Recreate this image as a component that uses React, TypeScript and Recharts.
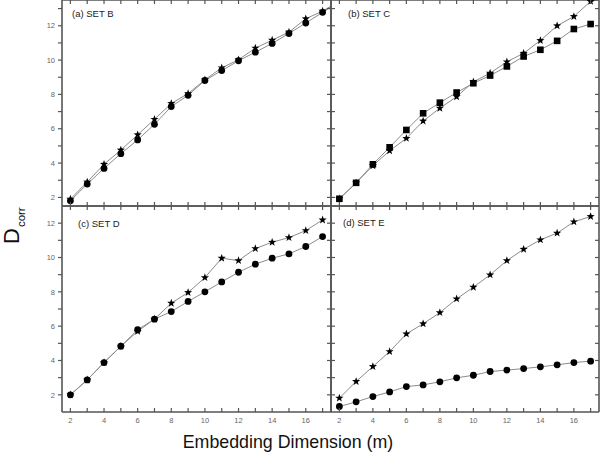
import React from 'react';
import { LineChart, Line, XAxis, YAxis } from 'recharts';

// ---------- data ----------
// m = 18 values are only visible as line segments leaving the right edge of panels (a) and (b)
const dims = [2, 3, 4, 5, 6, 7, 8, 9, 10, 11, 12, 13, 14, 15, 16, 17, 18];

const setBStar = [1.9, 2.9, 3.93, 4.76, 5.65, 6.55, 7.47, 8.05, 8.85, 9.55, 10.02, 10.7, 11.16, 11.63, 12.41, 12.85, 13.45];
const setBCircle = [1.8, 2.78, 3.69, 4.55, 5.35, 6.26, 7.29, 7.95, 8.81, 9.39, 9.96, 10.46, 10.97, 11.55, 12.16, 12.78, 13.42];

const setCStar = [1.92, 2.85, 3.85, 4.72, 5.44, 6.45, 7.2, 7.87, 8.73, 9.24, 9.9, 10.4, 11.14, 12.0, 12.54, 13.42, 13.6];
const setCSquare = [1.92, 2.85, 3.93, 4.92, 5.93, 6.9, 7.52, 8.11, 8.65, 9.1, 9.63, 10.21, 10.6, 11.12, 11.81, 12.1];

const setDStar = [2.0, 2.87, 3.88, 4.83, 5.7, 6.41, 7.34, 7.96, 8.83, 9.96, 9.82, 10.52, 10.89, 11.16, 11.57, 12.19];
const setDCircle = [2.0, 2.87, 3.88, 4.83, 5.79, 6.41, 6.85, 7.44, 8.0, 8.58, 9.14, 9.61, 9.96, 10.21, 10.64, 11.22];

const setEStar = [1.81, 2.78, 3.65, 4.52, 5.55, 6.14, 6.79, 7.59, 8.27, 8.99, 9.82, 10.48, 11.03, 11.42, 12.08, 12.39];
const setECircle = [1.32, 1.59, 1.9, 2.17, 2.48, 2.58, 2.76, 2.99, 3.14, 3.36, 3.44, 3.53, 3.63, 3.75, 3.88, 3.96];

const xTicks = [2, 3, 4, 5, 6, 7, 8, 9, 10, 11, 12, 13, 14, 15, 16, 17];
const yTicksTop = [2, 3, 4, 5, 6, 7, 8, 9, 10, 11, 12, 13];
const yTicksBottom = [2, 3, 4, 5, 6, 7, 8, 9, 10, 11, 12];
const xDomain: [number, number] = [1.5, 17.5];
const yDomainTop: [number, number] = [1.5, 13.5];
const yDomainBottom: [number, number] = [1, 13];

const panelTitles = ['(a) SET B', '(b) SET C', '(c)  SET D', '(d) SET E'];
const xTitle = 'Embedding Dimension (m)';
const yTitleMain = 'D';
const yTitleSub = 'corr';

// ---------- styles ----------
const FONT = '"Liberation Sans", Arial, Helvetica, sans-serif';
const AXIS = '#555';
const LINE = '#8c8c8c';
const LABEL = '#666';

type Shape = 'star' | 'circle' | 'square';

const Marker = ({ cx, cy, shape }: { cx: number; cy: number; shape: Shape }) => {
  if (cx == null || cy == null || Number.isNaN(cx) || Number.isNaN(cy)) return null;
  if (cx > 600) return null;
  if (shape === 'circle') return <circle cx={cx} cy={cy} r={3.4} fill="#000" />;
  if (shape === 'square') return <rect x={cx - 3.3} y={cy - 3.3} width={6.6} height={6.6} fill="#000" />;
  const R = 4.3;
  const r = 1.75;
  const pts: string[] = [];
  for (let i = 0; i < 10; i++) {
    const rad = i % 2 === 0 ? R : r;
    const a = -Math.PI / 2 + (i * Math.PI) / 5;
    pts.push(`${cx + rad * Math.cos(a)},${cy + rad * Math.sin(a)}`);
  }
  return <polygon points={pts.join(' ')} fill="#000" />;
};

type Orient = 'top' | 'bottom' | 'left' | 'right';

const makeTick = (orient: Orient, inLen: number, outLen: number, labels: boolean) => (props: any) => {
  const { x, y, payload } = props;
  const v = payload.value;
  let ln: any;
  if (orient === 'bottom') ln = { x1: x, x2: x, y1: y - inLen, y2: y + outLen };
  else if (orient === 'top') ln = { x1: x, x2: x, y1: y + inLen, y2: y - outLen };
  else if (orient === 'left') ln = { x1: x - outLen, x2: x + inLen, y1: y, y2: y };
  else ln = { x1: x + outLen, x2: x - inLen, y1: y, y2: y };
  const showText = labels && v % 2 === 0;
  return (
    <g>
      <line {...ln} stroke={AXIS} strokeWidth={1.2} />
      {showText && orient === 'left' && (
        <text x={x - 7} y={y + 2.7} textAnchor="end" fontSize={7.5} fill={LABEL} fontFamily={FONT}>
          {v}
        </text>
      )}
      {showText && orient === 'bottom' && (
        <text x={x} y={y + 10.5} textAnchor="middle" fontSize={7.5} fill={LABEL} fontFamily={FONT}>
          {v}
        </text>
      )}
    </g>
  );
};

type PanelProps = {
  left: number;
  top: number;
  right: number;
  bottom: number;
  yDomain: [number, number];
  yTicks: number[];
  s1: number[];
  s1Shape: Shape;
  s2: number[];
  s2Shape: Shape;
  yLabels: boolean;
  xLabels: boolean;
  outerLeft: boolean;
};

const Panel = (p: PanelProps) => {
  const data = dims.map((d, i) => ({ m: d, a: p.s1[i] ?? null, b: p.s2[i] ?? null }));
  const axisLine = { stroke: AXIS, strokeWidth: 1.6 };
  return (
    <div style={{ position: 'absolute', left: 0, top: 0 }}>
      <LineChart
        width={600}
        height={461}
        data={data}
        margin={{ left: p.left - 1, top: p.top - 1, right: 600 - p.right - 1, bottom: 461 - p.bottom - 1 }}
      >
        <XAxis
          xAxisId="bottom"
          dataKey="m"
          type="number"
          domain={xDomain}
          ticks={xTicks}
          interval={0}
          orientation="bottom"
          height={1}
          tickSize={0}
          tickMargin={0}
          tickLine={false}
          axisLine={axisLine}
          tick={makeTick('bottom', 4, 0, p.xLabels)}
          allowDataOverflow
        />
        <XAxis
          xAxisId="top"
          dataKey="m"
          type="number"
          domain={xDomain}
          ticks={xTicks}
          interval={0}
          orientation="top"
          height={1}
          tickSize={0}
          tickMargin={0}
          tickLine={false}
          axisLine={axisLine}
          tick={makeTick('top', 4, 0, false)}
          allowDataOverflow
        />
        <YAxis
          yAxisId="left"
          type="number"
          domain={p.yDomain}
          ticks={p.yTicks}
          interval={0}
          orientation="left"
          width={1}
          tickSize={0}
          tickMargin={0}
          tickLine={false}
          axisLine={axisLine}
          tick={makeTick('left', p.outerLeft ? 0 : 4, p.outerLeft ? 4 : 0, p.yLabels)}
          allowDataOverflow
        />
        <YAxis
          yAxisId="right"
          type="number"
          domain={p.yDomain}
          ticks={p.yTicks}
          interval={0}
          orientation="right"
          width={1}
          tickSize={0}
          tickMargin={0}
          tickLine={false}
          axisLine={axisLine}
          tick={makeTick('right', 4, 0, false)}
          allowDataOverflow
        />
        <Line
          xAxisId="bottom"
          yAxisId="left"
          dataKey="a"
          type="linear"
          stroke={LINE}
          strokeWidth={1}
          isAnimationActive={false}
          dot={(d: any) => (d.payload && d.payload.m > 17 ? <g key={`a${d.index}`} /> :
            <Marker key={`a${d.index}`} cx={d.cx} cy={d.cy} shape={p.s1Shape} />)}
        />
        <Line
          xAxisId="top"
          yAxisId="right"
          dataKey="b"
          type="linear"
          stroke={LINE}
          strokeWidth={1}
          isAnimationActive={false}
          dot={(d: any) => (d.payload && d.payload.m > 17 ? <g key={`b${d.index}`} /> :
            <Marker key={`b${d.index}`} cx={d.cx} cy={d.cy} shape={p.s2Shape} />)}
        />
      </LineChart>
    </div>
  );
};

export default function App() {
  return (
    <div style={{ position: 'absolute', left: 0, top: 0, width: 600, height: 461, background: '#fff', overflow: 'hidden' }}>
      <Panel left={62} top={0} right={331} bottom={206} yDomain={yDomainTop} yTicks={yTicksTop}
        s1={setBStar} s1Shape="star" s2={setBCircle} s2Shape="circle" yLabels xLabels={false} outerLeft />
      <Panel left={331} top={0} right={599} bottom={206} yDomain={yDomainTop} yTicks={yTicksTop}
        s1={setCStar} s1Shape="star" s2={setCSquare} s2Shape="square" yLabels={false} xLabels={false} outerLeft={false} />
      <Panel left={62} top={206} right={331} bottom={412} yDomain={yDomainBottom} yTicks={yTicksBottom}
        s1={setDStar} s1Shape="star" s2={setDCircle} s2Shape="circle" yLabels xLabels outerLeft />
      <Panel left={331} top={206} right={599} bottom={412} yDomain={yDomainBottom} yTicks={yTicksBottom}
        s1={setEStar} s1Shape="star" s2={setECircle} s2Shape="circle" yLabels={false} xLabels outerLeft={false} />
      <svg width={600} height={461} style={{ position: 'absolute', left: 0, top: 0, pointerEvents: 'none' }}>
        <text x={72} y={16.5} fontSize={9.5} fill="#222" fontFamily={FONT}>{panelTitles[0]}</text>
        <text x={348} y={17} fontSize={9.5} fill="#222" fontFamily={FONT}>{panelTitles[1]}</text>
        <text x={78} y={226.5} fontSize={9.5} fill="#222" fontFamily={FONT}>{panelTitles[2]}</text>
        <text x={343} y={226} fontSize={9.5} fill="#222" fontFamily={FONT}>{panelTitles[3]}</text>
        <text x={288} y={448} textAnchor="middle" fontSize={17.8} fill="#111" fontFamily={FONT}>{xTitle}</text>
        <text transform="translate(19, 244) rotate(-90)" fontSize={22} fill="#111" fontFamily={FONT}>
          {yTitleMain}
          <tspan fontSize={11.5} dy={5.5} dx={1}>{yTitleSub}</tspan>
        </text>
      </svg>
    </div>
  );
}
